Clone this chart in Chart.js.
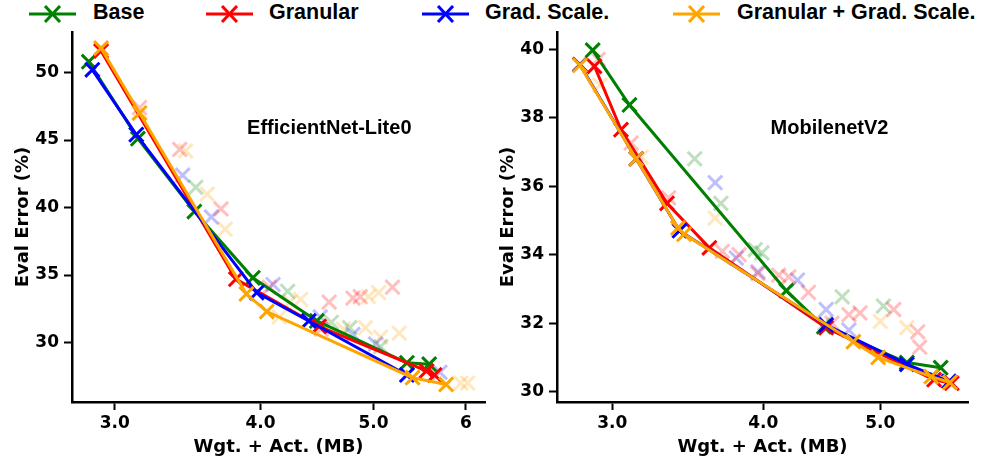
<!DOCTYPE html>
<html>
<head>
<meta charset="utf-8">
<script src="https://cdn.jsdelivr.net/npm/chart.js@4.4.1/dist/chart.umd.min.js"></script>
<style>
  body { margin: 0; background: #fff; width: 981px; height: 463px; overflow: hidden; position: relative; }
  #left { position: absolute; left: 0; top: 0; }
  #right { position: absolute; left: 490px; top: 0; }
  .legItem { position: absolute; top: 0; height: 28px; }
  .legText { position: absolute; top: 0; height: 28px; line-height: 28px; white-space: nowrap;
             font: bold 21.5px "Liberation Sans", Arial, sans-serif; color: #000; }
</style>
</head>
<body>
<div id="legend"></div>
<canvas id="left" width="498" height="463"></canvas>
<canvas id="right" width="491" height="463"></canvas>
<script>
// series names and colours
const seriesNames = ['Base', 'Granular', 'Grad. Scale.', 'Granular + Grad. Scale.'];
const seriesColors = ['#008000', '#ff0000', '#0000ff', '#ffa500'];
const fadedColors = ['rgba(0,128,0,0.25)', 'rgba(255,0,0,0.25)', 'rgba(0,0,255,0.25)', 'rgba(255,165,0,0.25)'];

// EfficientNet-Lite0 : [size MB, eval error %]
const effBase = [[2.85, 50.8], [3.14, 45.1], [3.51, 39.7], [3.94, 34.8], [4.47, 31.6], [5.34, 28.5], [5.58, 28.4]];
const effGranular = [[2.92, 51.6], [3.81, 34.7], [4.49, 31.2], [5.55, 27.9], [5.64, 27.6]];
const effGradScale = [[2.87, 50.2], [3.13, 45.4], [3.97, 33.7], [4.40, 31.6], [5.34, 27.6]];
const effBoth = [[2.92, 51.8], [3.15, 47.0], [3.89, 33.6], [4.05, 32.3], [5.40, 27.4], [5.77, 26.9]];

const effBaseFaded = [[3.52, 41.5], [4.22, 33.8], [4.60, 31.5], [4.77, 31.1], [5.07, 29.7]];
const effGranularFaded = [[3.15, 47.4], [3.41, 44.3], [3.70, 39.9], [4.07, 34.1], [4.51, 31.0], [4.58, 33.0],
                          [4.80, 33.3], [4.87, 33.4], [5.19, 34.1]];
const effGradScaleFaded = [[3.43, 42.4], [3.63, 39.3], [4.10, 34.3], [4.50, 31.9], [4.80, 30.6], [5.02, 29.9], [5.70, 27.8]];
const effBothFaded = [[3.45, 44.2], [3.60, 41.0], [3.73, 38.4], [4.15, 31.9], [4.24, 33.0], [4.33, 33.2], [4.71, 31.0],
                      [4.92, 31.1], [4.95, 33.4], [5.05, 33.7], [5.07, 30.4], [5.26, 30.7], [5.94, 27.0], [6.02, 27.0]];

// MobilenetV2
const mobBase = [[2.89, 39.97], [3.10, 38.37], [4.18, 32.95], [4.49, 31.9], [5.26, 30.85], [5.61, 30.7]];
const mobGranular = [[2.90, 39.5], [3.05, 37.65], [3.33, 35.5], [3.61, 34.2], [4.51, 31.87], [5.54, 30.35], [5.73, 30.25]];
const mobGradScale = [[2.82, 39.55], [3.14, 36.8], [3.41, 34.7], [4.51, 31.95], [5.26, 30.8], [5.70, 30.3]];
const mobBoth = [[2.82, 39.53], [3.14, 36.8], [3.40, 34.78], [3.44, 34.6], [4.75, 31.46], [4.98, 31.0], [5.51, 30.44], [5.71, 30.27]];

const mobBaseFaded = [[3.51, 36.8], [3.69, 35.5], [3.94, 34.15], [3.99, 34.05], [4.50, 32.0], [4.65, 32.77], [5.03, 32.5]];
const mobGranularFaded = [[2.92, 39.7], [3.11, 37.26], [3.34, 35.66], [3.70, 34.1], [3.82, 34.0], [3.96, 33.45], [4.12, 33.4],
                          [4.20, 33.35], [4.36, 32.9], [4.56, 32.0], [4.71, 32.25], [4.81, 32.3], [5.13, 32.4], [5.37, 31.75], [5.39, 31.3]];
const mobGradScaleFaded = [[3.65, 36.1], [3.80, 33.9], [3.96, 33.5], [4.27, 33.26], [4.51, 32.4], [4.71, 31.8]];
const mobBothFaded = [[2.93, 38.95], [3.17, 36.85], [3.65, 35.07], [5.00, 32.05], [5.26, 31.87]];

// axis ticks
const effXTicks = [3, 4, 5, 6];
const effXLabels = ['3.0', '4.0', '5.0', '6'];
const effYTicks = [30, 35, 40, 45, 50];
const mobXTicks = [3, 4, 5];
const mobXLabels = ['3.0', '4.0', '5.0'];
const mobYTicks = [30, 32, 34, 36, 38, 40];

// legend (html)
const legLineLeft = [29, 206, 422, 673];
const legTextLeft = [93, 269, 485, 737];
const legend = document.getElementById('legend');
seriesNames.forEach((name, i) => {
    const c = seriesColors[i];
    legend.insertAdjacentHTML('beforeend',
        `<svg class="legItem" style="left:${legLineLeft[i]}px" width="47" height="28">
           <line x1="0" y1="14" x2="47" y2="14" stroke="${c}" stroke-width="3"/>
           <line x1="16" y1="6" x2="31" y2="22" stroke="${c}" stroke-width="3"/>
           <line x1="31" y1="6" x2="16" y2="22" stroke="${c}" stroke-width="3"/>
         </svg>
         <span class="legText" style="left:${legTextLeft[i]}px">${name}</span>`);
});

const toXY = arr => arr.map(p => ({ x: p[0], y: p[1] }));

// text label inside the plot area
const panelLabel = {
    id: 'panelLabel',
    afterDatasetsDraw(chart, args, opts) {
        const { ctx, chartArea } = chart;
        ctx.save();
        ctx.font = 'bold 20px "Liberation Sans", Arial, sans-serif';
        ctx.fillStyle = '#000';
        ctx.textAlign = 'center';
        ctx.textBaseline = 'middle';
        ctx.fillText(opts.text, chartArea.left + opts.fx * chartArea.width, chartArea.top + opts.fy * chartArea.height);
        ctx.restore();
    }
};

const axisFont = { family: '"DejaVu Sans", sans-serif', weight: 'bold', size: 17 };
const titleFont = { family: '"DejaVu Sans", sans-serif', weight: 'bold', size: 18 };

function createPanel(canvasId, lines, faded, cfg) {
    const datasets = [];
    faded.forEach((pts, i) => datasets.push({
        data: toXY(pts),
        showLine: false,
        pointStyle: 'crossRot',
        pointRadius: 10,
        pointBorderWidth: 3,
        borderColor: fadedColors[i],
        backgroundColor: fadedColors[i],
        order: 10
    }));
    lines.forEach((pts, i) => datasets.push({
        data: toXY(pts),
        showLine: true,
        borderColor: seriesColors[i],
        backgroundColor: seriesColors[i],
        borderWidth: 3,
        pointStyle: 'crossRot',
        pointRadius: 10,
        pointBorderWidth: 3,
        tension: 0,
        order: 3 - i
    }));

    return new Chart(document.getElementById(canvasId), {
        type: 'scatter',
        data: { datasets },
        options: {
            responsive: false,
            animation: false,
            events: [],
            layout: { padding: { top: 32, right: cfg.rightPad, left: 0, bottom: 0 } },
            plugins: {
                legend: { display: false },
                tooltip: { enabled: false },
                panelLabel: { text: cfg.label, fx: cfg.labelFx, fy: 0.26 }
            },
            scales: {
                x: {
                    type: 'logarithmic',
                    min: cfg.xMin,
                    max: cfg.xMax,
                    afterBuildTicks: s => { s.ticks = cfg.xTicks.map(v => ({ value: v })); },
                    afterFit: s => { s.height = 61; },
                    border: { display: true, color: '#000', width: 2.5 },
                    grid: { drawOnChartArea: false, drawTicks: true, tickLength: 8, tickWidth: 2, color: '#000' },
                    ticks: {
                        color: '#000', font: axisFont, padding: 3, maxRotation: 0, autoSkip: false,
                        callback: v => cfg.xLabels[cfg.xTicks.indexOf(v)]
                    },
                    title: { display: true, text: 'Wgt. + Act. (MB)', color: '#000', font: titleFont, padding: { top: 0, bottom: 5 } }
                },
                y: {
                    min: cfg.yMin,
                    max: cfg.yMax,
                    afterBuildTicks: s => { s.ticks = cfg.yTicks.map(v => ({ value: v })); },
                    afterFit: s => { s.width = cfg.yWidth; },
                    border: { display: true, color: '#000', width: 2.5 },
                    grid: { drawOnChartArea: false, drawTicks: true, tickLength: 8, tickWidth: 2, color: '#000' },
                    ticks: { color: '#000', font: axisFont, padding: 5 },
                    title: { display: true, text: 'Eval Error (%)', color: '#000', font: titleFont, padding: { top: cfg.yTitlePad, bottom: 0 } }
                }
            }
        },
        plugins: [panelLabel]
    });
}

createPanel('left',
    [effBase, effGranular, effGradScale, effBoth],
    [effBaseFaded, effGranularFaded, effGradScaleFaded, effBothFaded],
    { xMin: 2.757, xMax: 6.23, xTicks: effXTicks, xLabels: effXLabels,
      yMin: 25.6, yMax: 53.0, yTicks: effYTicks, yWidth: 72, rightPad: 4, yTitlePad: 13,
      label: 'EfficientNet-Lite0', labelFx: 0.623 });

createPanel('right',
    [mobBase, mobGranular, mobGradScale, mobBoth],
    [mobBaseFaded, mobGranularFaded, mobGradScaleFaded, mobBothFaded],
    { xMin: 2.726, xMax: 5.91, xTicks: mobXTicks, xLabels: mobXLabels,
      yMin: 29.7, yMax: 40.5, yTicks: mobYTicks, yWidth: 67, rightPad: 12, yTitlePad: 8,
      label: 'MobilenetV2', labelFx: 0.663 });
</script>
</body>
</html>
